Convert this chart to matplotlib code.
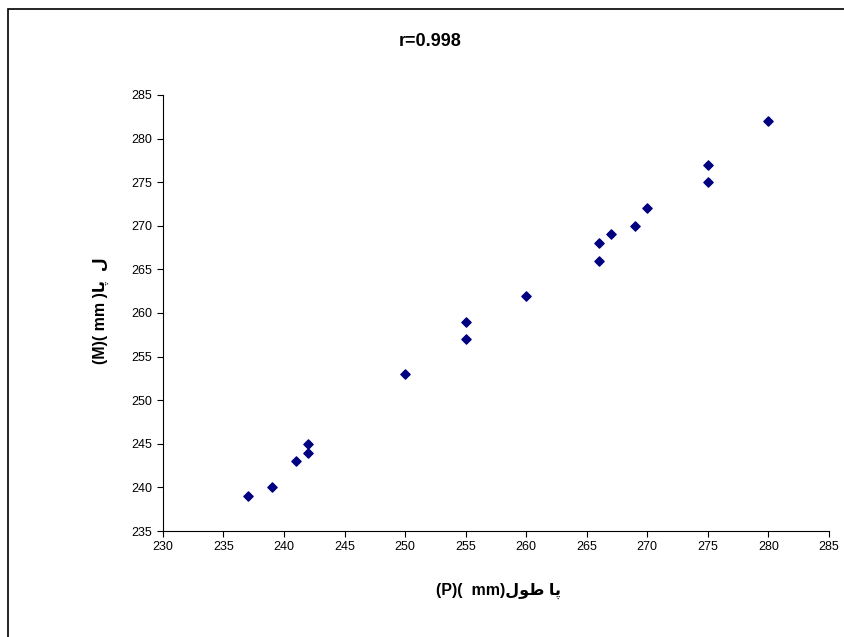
import matplotlib
matplotlib.use("Agg")
import matplotlib.pyplot as plt
from matplotlib.patches import Rectangle

# data
foot_len = [237, 239, 241, 242, 242, 250, 255, 255, 260, 266, 266, 267, 269, 270, 275, 275, 280]
other_len = [239, 240, 243, 244, 245, 253, 257, 259, 262, 266, 268, 269, 270, 272, 275, 277, 282]
ticks = [230, 235, 240, 245, 250, 255, 260, 265, 270, 275, 280, 285]
yticks = [235, 240, 245, 250, 255, 260, 265, 270, 275, 280, 285]

# arabic words in visual order (presentation forms, no shaping engine)
tool_pa = "\uFEDD\uFEEE\uFEC3 \uFE8E\uFB58"
xlab = "(P)(  mm)" + tool_pa
ylab = "(M)( mm )\uFE8E\uFB58  \uFEDD"

plt.rcParams['font.family'] = ['Liberation Sans', 'DejaVu Sans']

fig = plt.figure(figsize=(8.44, 6.37), dpi=100)
ax = fig.add_axes([0.193, 0.1664, 0.789, 0.6846])

ax.scatter(foot_len, other_len, marker='D', s=22, color='#000080', zorder=3)

ax.set_xlim(230, 285)
ax.set_ylim(235, 285)
ax.set_xticks(ticks)
ax.set_yticks(yticks)
ax.tick_params(labelsize=9, length=4, width=0.8, color='black')
ax.spines['top'].set_visible(False)
ax.spines['right'].set_visible(False)

fig.text(0.51, 0.935, "r=0.998", ha='center', va='center', fontsize=13, fontweight='heavy')
fig.text(0.59, 0.072, xlab, ha='center', va='center', fontsize=11.5, fontweight='bold')
fig.text(0.12, 0.513, ylab, ha='center', va='center', fontsize=11.5, fontweight='bold', rotation=90)

fig.patches.append(Rectangle((8/844, -0.1), 1.2, 0.1 + 1 - 9/637, transform=fig.transFigure,
                             fill=False, edgecolor='black', linewidth=1.2))

fig.savefig("out.png", dpi=100)
